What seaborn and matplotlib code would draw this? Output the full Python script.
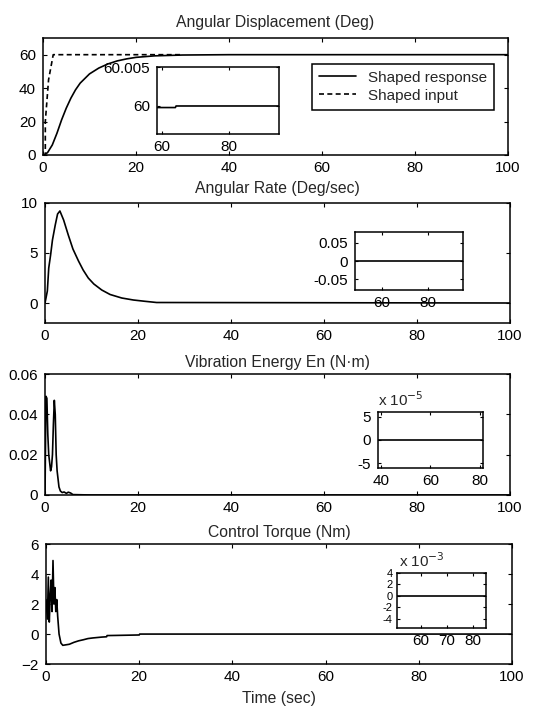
import numpy as np
import matplotlib
matplotlib.use("Agg")
import matplotlib.pyplot as plt
import seaborn as sns

# ---- data ----
t_resp = [0, 0.5, 1, 2, 3, 4, 5, 6, 7, 8, 10, 12, 14, 16, 18, 20, 24, 30, 40, 100]
ang_resp = [0, 0.5, 1.5, 6, 13, 21, 28, 34, 39, 43, 48.5, 52, 54.5, 56.3, 57.5, 58.4, 59.3, 59.8, 60, 60]
t_input = [0, 0.5, 0.5, 1.2, 2.2, 30]
ang_input = [0, 0, 20, 45, 60, 60]

t_rate = [0, 0.5, 0.8, 1.2, 1.6, 2.2, 2.7, 3.2, 4, 5, 6, 7.2, 8.2, 9.3, 10.5, 12.2, 14, 16.5, 19, 21.5, 24, 100]
rate = [0, 1.2, 3.5, 4.8, 6.3, 7.8, 8.9, 9.2, 8.3, 6.8, 5.4, 4.2, 3.3, 2.5, 1.9, 1.3, 0.85, 0.5, 0.3, 0.17, 0.05, 0]

t_energy = [0, 0.2, 0.4, 0.6, 0.8, 1.0, 1.2, 1.4, 1.6, 1.8, 2.0, 2.2, 2.4, 2.6, 2.8, 3.0, 3.3, 3.7, 4.1, 4.6, 5.0, 5.5, 6.0, 10, 100]
energy = [0.0, 0.049, 0.048, 0.03, 0.02, 0.016, 0.012, 0.014, 0.02, 0.035, 0.047, 0.04, 0.02, 0.012, 0.008, 0.004, 0.002, 0.0012, 0.0015, 0.0008, 0.0014, 0.001, 0.0002, 0, 0]

t_torque = [0, 0.3, 0.5, 0.7, 0.9, 1.1, 1.3, 1.5, 1.7, 1.9, 2.1, 2.3, 2.5, 2.8, 3.2, 3.6, 4.2, 5, 6, 7, 8, 9, 10, 12, 13, 13.1, 15, 20, 20.1, 100]
torque = [2.3, 1.0, 3.8, 0.8, 2.5, 3.6, 1.5, 4.9, 2.0, 3.1, 1.5, 2.3, 1.2, 0.0, -0.6, -0.75, -0.72, -0.68, -0.55, -0.45, -0.38, -0.3, -0.26, -0.2, -0.18, -0.1, -0.09, -0.06, 0, 0]

# inset (zoomed) views
t_in1 = [58.5, 64, 64.2, 95]
ang_in1 = [59.9998, 59.9998, 60.0, 60.0]
t_in2 = [48, 95]
rate_in2 = [0, 0]
t_in3 = [38, 82]
energy_in3 = [0, 0]
t_in4 = [50, 85]
torque_in4 = [0, 0]

titles = ["Angular Displacement (Deg)", "Angular Rate (Deg/sec)",
          "Vibration Energy En (N\u00b7m)", "Control Torque (Nm)"]
title_pads = [8, 7, 5, 5]

sns.set_style("ticks")
plt.rcParams['font.family'] = ['Liberation Sans', 'DejaVu Sans']
plt.rcParams.update({
    'xtick.direction': 'in', 'ytick.direction': 'in',
    'xtick.top': True, 'ytick.right': True,
    'xtick.major.size': 3, 'ytick.major.size': 3,
    'axes.linewidth': 1.1, 'font.size': 11,
    'xtick.labelsize': 11, 'ytick.labelsize': 11,
    'axes.edgecolor': 'black', 'xtick.color': 'black', 'ytick.color': 'black',
})

fig = plt.figure(figsize=(5.49, 7.11), dpi=100)

main_pos = [[0.0783, 0.782, 0.847, 0.1646],
            [0.082, 0.5457, 0.847, 0.1688],
            [0.082, 0.3038, 0.847, 0.170],
            [0.0838, 0.066, 0.849, 0.1688]]
inset_pos = [[0.286, 0.8115, 0.222, 0.0942],
             [0.6466, 0.592, 0.1967, 0.0816],
             [0.6885, 0.3418, 0.1913, 0.0788],
             [0.7231, 0.1167, 0.1621, 0.0774]]

lw = 1.2
axes = [fig.add_axes(p) for p in main_pos]

# 1: angular displacement
ax = axes[0]
sns.lineplot(x=t_resp, y=ang_resp, ax=ax, color='black', lw=lw, estimator=None, sort=False,
             label='Shaped response')
sns.lineplot(x=t_input, y=ang_input, ax=ax, color='black', lw=lw, estimator=None, sort=False,
             label='Shaped input')
ax.lines[1].set_linestyle((0, (3, 2)))
ax.set_ylim(0, 70)
ax.set_yticks([0, 20, 40, 60])
leg = ax.legend(loc='upper right', bbox_to_anchor=(0.970, 0.778), borderaxespad=0,
                frameon=True, fancybox=False, edgecolor='black', framealpha=1,
                fontsize=11, handlelength=2.4, borderpad=0.45, labelspacing=0.25)
leg.get_frame().set_linewidth(1.1)

# 2: angular rate
ax = axes[1]
sns.lineplot(x=t_rate, y=rate, ax=ax, color='black', lw=lw, estimator=None, sort=False)
ax.set_ylim(-2, 10)
ax.set_yticks([0, 5, 10])

# 3: vibration energy
ax = axes[2]
sns.lineplot(x=t_energy, y=energy, ax=ax, color='black', lw=lw, estimator=None, sort=False)
ax.set_ylim(0, 0.06)
ax.set_yticks([0, 0.02, 0.04, 0.06])
ax.set_yticklabels(['0', '0.02', '0.04', '0.06'])

# 4: control torque
ax = axes[3]
sns.lineplot(x=t_torque, y=torque, ax=ax, color='black', lw=lw, estimator=None, sort=False)
ax.set_ylim(-2, 6)
ax.set_yticks([-2, 0, 2, 4, 6])

for ax, title, pad in zip(axes, titles, title_pads):
    ax.set_xlim(0, 100)
    ax.set_xticks([0, 20, 40, 60, 80, 100])
    ax.set_title(title, fontsize=11.3, pad=pad)
    ax.tick_params(axis='x', pad=4)
    ax.tick_params(axis='y', pad=5)
    ax.set_xlabel('')
    ax.set_ylabel('')
axes[3].set_xlabel('Time (sec)', fontsize=11.3, labelpad=5)

# insets
ins = [fig.add_axes(p) for p in inset_pos]

ax = ins[0]
sns.lineplot(x=t_in1, y=ang_in1, ax=ax, color='black', lw=lw, estimator=None, sort=False)
ax.set_xlim(58.5, 95)
ax.set_ylim(59.9964, 60.005)
ax.set_xticks([60, 80])
ax.set_yticks([60, 60.005])
ax.set_yticklabels(['60', '60.005'])

ax = ins[1]
sns.lineplot(x=t_in2, y=rate_in2, ax=ax, color='black', lw=lw, estimator=None, sort=False)
ax.set_xlim(48.3, 95)
ax.set_ylim(-0.08, 0.08)
ax.set_xticks([60, 80])
ax.set_yticks([-0.05, 0, 0.05])
ax.set_yticklabels(['-0.05', '0', '0.05'])

ax = ins[2]
sns.lineplot(x=t_in3, y=energy_in3, ax=ax, color='black', lw=lw, estimator=None, sort=False)
ax.set_xlim(38.8, 81.2)
ax.set_ylim(-6e-5, 6e-5)
ax.set_xticks([40, 60, 80])
ax.set_yticks([-5e-5, 0, 5e-5])
ax.set_yticklabels(['-5', '0', '5'])
ax.text(0.0, 1.06, r'x 10$^{-5}$', transform=ax.transAxes, fontsize=11, va='bottom', ha='left')

ax = ins[3]
sns.lineplot(x=t_in4, y=torque_in4, ax=ax, color='black', lw=lw, estimator=None, sort=False)
ax.set_xlim(50.8, 85)
ax.set_ylim(-5.6e-3, 4e-3)
ax.set_xticks([60, 70, 80])
ax.set_yticks([-4e-3, -2e-3, 0, 2e-3, 4e-3])
ax.set_yticklabels(['-4', '-2', '0', '2', '4'])
ax.text(0.02, 1.06, r'x 10$^{-3}$', transform=ax.transAxes, fontsize=11, va='bottom', ha='left')

for ax in ins:
    ax.set_xlabel('')
    ax.set_ylabel('')
    ax.tick_params(axis='x', pad=4, length=2.5)
    ax.tick_params(axis='y', pad=5, length=2.5)
    ax.set_facecolor('white')
ins[3].tick_params(axis='y', labelsize=8, pad=3)

fig.savefig('out.png', dpi=100)
